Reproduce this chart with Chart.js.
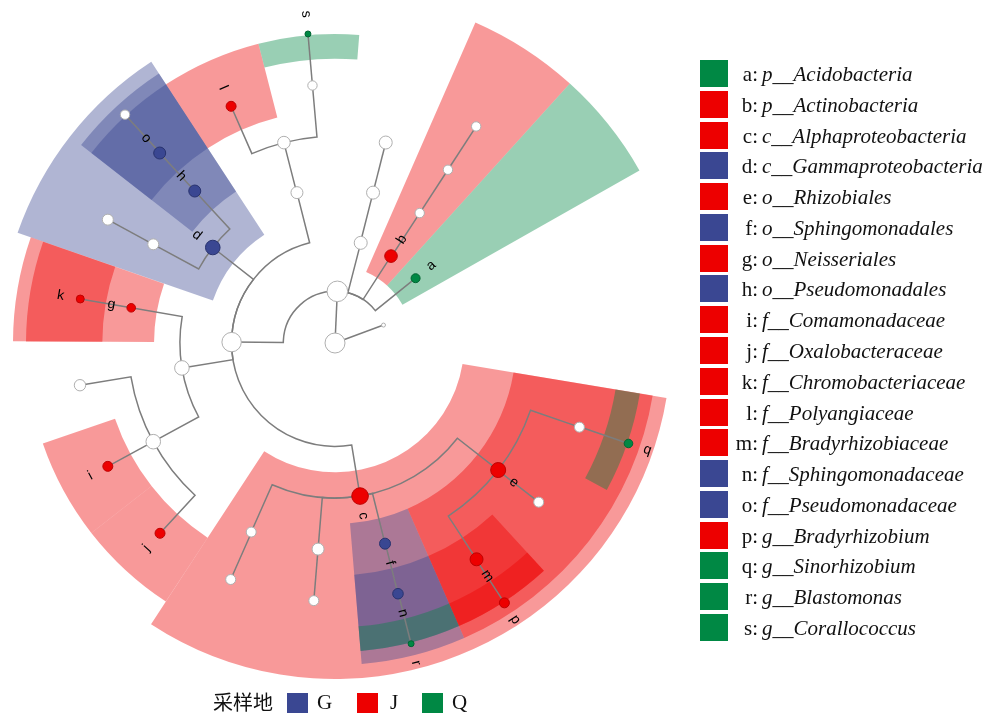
<!DOCTYPE html>
<html>
<head>
<meta charset="utf-8">
<script src="https://cdn.jsdelivr.net/npm/chart.js@4.4.1/dist/chart.umd.min.js"></script>
<style>
  html, body { margin: 0; padding: 0; background: #fff; }
  #wrap { position: relative; width: 987px; height: 716px; overflow: hidden; }
  #c { position: absolute; left: 0; top: 0; }
  .row { position: absolute; left: 700px; height: 28px; white-space: nowrap;
         font-family: "Liberation Serif", "Times New Roman", serif; font-size: 21px; line-height: 28px; color: #111; }
  .box { position: absolute; left: 0; top: 0; width: 28px; height: 27px; }
  .pre { position: absolute; left: 30px; width: 28px; text-align: right; }
  .tax { position: absolute; left: 62px; font-style: italic; }
  #key { position: absolute; left: 213px; top: 689px; height: 26px; white-space: nowrap;
         font-family: "Liberation Serif", "Times New Roman", serif; font-size: 21px; line-height: 26px; color: #111; }
  #key .ttl { position: absolute; left: 0; top: 0; font-family: "Noto Sans CJK SC", sans-serif; font-size: 20px; }
  #key .kb { position: absolute; top: 4px; width: 21px; height: 20px; }
  #key .kt { position: absolute; top: 0; }
</style>
</head>
<body>
<div id="wrap">
  <canvas id="c" width="987" height="716"></canvas>
  <div id="legend"></div>
  <div id="key"></div>
</div>
<script>
// ---- taxonomy tree: one entry per clade (parent, rank level, angular position, node size) ----
const nodeIds = [
  'root', 'k__Bacteria', 'k__Archaea',
  'p__Proteobacteria', 'p__other', 'c__other', 'o__other',
  'p__Actinobacteria', 'c__Actinobacteria', 'o__Actinomycetales', 'f__Actinomycetaceae',
  'p__Acidobacteria',
  'c__Alphaproteobacteria', 'c__Betaproteobacteria', 'c__Gammaproteobacteria', 'c__Deltaproteobacteria',
  'o__Rhizobiales', 'o__Sphingomonadales', 'o__alpha2', 'o__alpha3',
  'f__Bradyrhizobiaceae', 'f__Rhizobiales2', 'f__Rhizobiaceae',
  'g__Bradyrhizobium', 'g__Sinorhizobium',
  'f__Sphingomonadaceae', 'g__Blastomonas',
  'f__alpha2', 'f__alpha3',
  'o__Burkholderiales', 'o__Neisseriales', 'f__Chromobacteriaceae',
  'f__Comamonadaceae', 'f__Oxalobacteraceae', 'f__Burkholderiaceae',
  'o__Pseudomonadales', 'f__Pseudomonadaceae', 'g__Pseudomonas',
  'o__gamma2', 'f__gamma2',
  'o__Myxococcales', 'f__Polyangiaceae', 'f__Myxococcaceae', 'g__Corallococcus'
];
const nodeParents = [
  null, 'root', 'root',
  'k__Bacteria', 'k__Bacteria', 'p__other', 'c__other',
  'k__Bacteria', 'p__Actinobacteria', 'c__Actinobacteria', 'o__Actinomycetales',
  'k__Bacteria',
  'p__Proteobacteria', 'p__Proteobacteria', 'p__Proteobacteria', 'p__Proteobacteria',
  'c__Alphaproteobacteria', 'c__Alphaproteobacteria', 'c__Alphaproteobacteria', 'c__Alphaproteobacteria',
  'o__Rhizobiales', 'o__Rhizobiales', 'o__Rhizobiales',
  'f__Bradyrhizobiaceae', 'f__Rhizobiaceae',
  'o__Sphingomonadales', 'f__Sphingomonadaceae',
  'o__alpha2', 'o__alpha3',
  'c__Betaproteobacteria', 'c__Betaproteobacteria', 'o__Neisseriales',
  'o__Burkholderiales', 'o__Burkholderiales', 'o__Burkholderiales',
  'c__Gammaproteobacteria', 'o__Pseudomonadales', 'f__Pseudomonadaceae',
  'c__Gammaproteobacteria', 'o__gamma2',
  'c__Deltaproteobacteria', 'o__Myxococcales', 'o__Myxococcales', 'f__Myxococcaceae'
];
// rank level: 0 root, 1 kingdom, 2 phylum, 3 class, 4 order, 5 family, 6 genus
const nodeLevels = [
  0, 1, 1,
  2, 2, 3, 4,
  2, 3, 4, 5,
  2,
  3, 3, 3, 3,
  4, 4, 4, 4,
  5, 5, 5,
  6, 6,
  5, 6,
  5, 5,
  4, 4, 5,
  5, 5, 5,
  4, 5, 6,
  4, 5,
  4, 5, 5, 6
];
// angular position in degrees, clockwise from 3 o'clock
const nodeAngles = [
  0, -87.4, -20.3,
  180.5, -75.6, -75.8, -75.8,
  -57.2, -56.9, -56.9, -56.9,
  -38.8,
  80.7, 170.75, -142.0, -104.2,
  37.9, 76.0, 94.7, 113.9,
  56.8, 38.0, 19.0,
  56.9, 18.9,
  75.9, 75.8,
  94.7, 113.8,
  151.5, 189.8, 189.8,
  151.5, 132.6, 170.6,
  -132.7, -132.7, -132.6,
  -151.5, -151.5,
  -104.3, -113.7, -95.0, -95.0
];
// node marker radius (relative abundance)
const nodeSizes = [
  10, 10.3, 2,
  9.7, 6.5, 6.5, 6.5,
  6.3, 4.7, 4.7, 4.7,
  4.5,
  8.3, 7.3, 7.3, 6,
  7.5, 5.5, 6, 5,
  6.5, 5, 5,
  5, 4.3,
  5.3, 3,
  5, 5,
  7.3, 4.3, 4,
  5, 5, 5.7,
  6, 6, 4.7,
  5.5, 5.5,
  6.3, 5, 4.7, 3
];
// sampling site where the clade is enriched ('' = not significant)
const nodeGroups = [
  '', '', '',
  '', '', '', '',
  'J', '', '', '',
  'Q',
  'J', '', 'G', '',
  'J', 'G', '', '',
  'J', '', '',
  'J', 'Q',
  'G', 'Q',
  '', '',
  '', 'J', 'J',
  'J', 'J', '',
  'G', 'G', '',
  '', '',
  '', 'J', '', 'Q'
];
const nodeLetters = [
  '', '', '',
  '', '', '', '',
  'b', '', '', '',
  'a',
  'c', '', 'd', '',
  'e', 'f', '', '',
  'm', '', '',
  'p', 'q',
  'n', 'r',
  '', '',
  '', 'g', 'k',
  'i', 'j', '',
  'h', 'o', '',
  '', '',
  '', 'l', '', 's'
];

// ---- legend content ----
const legendLetters = ['a','b','c','d','e','f','g','h','i','j','k','l','m','n','o','p','q','r','s'];
const legendRanks   = ['p','p','c','c','o','o','o','o','f','f','f','f','f','f','f','g','g','g','g'];
const legendTaxa = [
  'Acidobacteria', 'Actinobacteria', 'Alphaproteobacteria', 'Gammaproteobacteria',
  'Rhizobiales', 'Sphingomonadales', 'Neisseriales', 'Pseudomonadales',
  'Comamonadaceae', 'Oxalobacteraceae', 'Chromobacteriaceae', 'Polyangiaceae',
  'Bradyrhizobiaceae', 'Sphingomonadaceae', 'Pseudomonadaceae', 'Bradyrhizobium',
  'Sinorhizobium', 'Blastomonas', 'Corallococcus'
];
const legendGroups = ['Q','J','J','G','J','G','J','G','J','J','J','J','J','G','G','J','Q','Q','Q'];
const siteTitle = '采样地';
const siteNames = ['G', 'J', 'Q'];

// ---- styling ----
const siteColors = { G: 'rgb(58,71,146)', J: 'rgb(237,0,0)', Q: 'rgb(0,136,68)' };
const siteShade  = { G: 'rgba(58,71,146,0.4)', J: 'rgba(237,0,0,0.4)', Q: 'rgba(0,136,68,0.4)' };
const siteEdge   = { G: 'rgb(40,50,110)', J: 'rgb(190,0,0)', Q: 'rgb(0,100,50)' };
const ringStep = 51.7;                              // radial distance between rank rings
const shadeOuter = [0, 0, 350, 336, 322, 309, 309]; // outer edge of clade shading per rank
const maxHalfSlot = 9.5;                            // widest half-slot of a terminal clade (deg)
const labelGap = 20;

// ---- helpers ----
const idx = {};
nodeIds.forEach((id, i) => { idx[id] = i; });
const parentIdx = nodeParents.map(p => (p === null ? -1 : idx[p]));
const children = nodeIds.map(() => []);
parentIdx.forEach((p, i) => { if (p >= 0) children[p].push(i); });
const rad = d => d * Math.PI / 180;
const wrap = d => ((d + 180) % 360 + 360) % 360 - 180;
const norm360 = d => ((d % 360) + 360) % 360;
function leavesOf(i) {
  if (!children[i].length) return [i];
  return children[i].flatMap(leavesOf);
}

// angular slot of every terminal clade: halfway to its neighbours, capped at maxHalfSlot
const leafOrder = nodeIds.map((_, i) => i).filter(i => !children[i].length)
  .sort((a, b) => norm360(nodeAngles[a]) - norm360(nodeAngles[b]));
const leafSlot = {};
leafOrder.forEach((l, k) => {
  const prev = leafOrder[(k - 1 + leafOrder.length) % leafOrder.length];
  const next = leafOrder[(k + 1) % leafOrder.length];
  const a = nodeAngles[l];
  leafSlot[l] = [Math.max(wrap(nodeAngles[prev] - a) / 2, -maxHalfSlot),
                 Math.min(wrap(nodeAngles[next] - a) / 2, maxHalfSlot)];
});

const points = nodeIds.map((id, i) => {
  const r = nodeLevels[i] * ringStep, t = rad(nodeAngles[i]);
  return { x: r * Math.cos(t), y: -r * Math.sin(t) };
});

const cladePlugin = {
  id: 'clade',
  beforeDatasetsDraw(chart) {
    const { ctx, scales: { x, y } } = chart;
    const cx = x.getPixelForValue(0), cy = y.getPixelForValue(0);
    const toPx = v => x.getPixelForValue(v) - cx;
    ctx.save();
    // clade shading, shallow ranks first
    const shaded = nodeIds.map((_, i) => i).filter(i => nodeGroups[i])
      .sort((a, b) => nodeLevels[a] - nodeLevels[b]);
    shaded.forEach(i => {
      const base = nodeAngles[i];
      let lo = Infinity, hi = -Infinity;
      leavesOf(i).forEach(l => {
        const rel = wrap(nodeAngles[l] - base);
        lo = Math.min(lo, rel + leafSlot[l][0]);
        hi = Math.max(hi, rel + leafSlot[l][1]);
      });
      const L = nodeLevels[i];
      const rIn = toPx(L * ringStep - ringStep / 2), rOut = toPx(shadeOuter[L]);
      ctx.beginPath();
      ctx.arc(cx, cy, rOut, rad(base + lo), rad(base + hi), false);
      ctx.arc(cx, cy, rIn, rad(base + hi), rad(base + lo), true);
      ctx.closePath();
      ctx.fillStyle = siteShade[nodeGroups[i]];
      ctx.fill();
    });
    // branches: arc along the parent ring, then radial out to the child
    ctx.strokeStyle = 'rgb(125,125,125)';
    ctx.lineWidth = 1.5;
    nodeIds.forEach((_, i) => {
      const p = parentIdx[i];
      if (p < 0) return;
      const rp = toPx(nodeLevels[p] * ringStep), rc = toPx(nodeLevels[i] * ringStep);
      const tp = nodeAngles[p], d = wrap(nodeAngles[i] - tp), tc = tp + d;
      ctx.beginPath();
      ctx.moveTo(cx + rp * Math.cos(rad(tp)), cy + rp * Math.sin(rad(tp)));
      if (rp > 0) ctx.arc(cx, cy, rp, rad(tp), rad(tc), d < 0);
      ctx.lineTo(cx + rc * Math.cos(rad(tc)), cy + rc * Math.sin(rad(tc)));
      ctx.stroke();
    });
    ctx.restore();
  },
  afterDatasetsDraw(chart) {
    const { ctx, scales: { x, y } } = chart;
    const cx = x.getPixelForValue(0), cy = y.getPixelForValue(0);
    const toPx = v => x.getPixelForValue(v) - cx;
    ctx.save();
    ctx.font = '14px "Liberation Sans", Arial, sans-serif';
    ctx.fillStyle = '#000';
    ctx.textAlign = 'center';
    ctx.textBaseline = 'middle';
    nodeIds.forEach((_, i) => {
      if (!nodeLetters[i]) return;
      const t = rad(nodeAngles[i]);
      const r = toPx(nodeLevels[i] * ringStep + labelGap);
      const rot = Math.cos(t) >= 0 ? t : t + Math.PI;
      ctx.save();
      ctx.translate(cx + r * Math.cos(t), cy + r * Math.sin(t));
      ctx.rotate(rot);
      ctx.fillText(nodeLetters[i], 0, 0);
      ctx.restore();
    });
    ctx.restore();
  }
};

new Chart(document.getElementById('c'), {
  type: 'scatter',
  data: {
    datasets: [{
      data: points,
      pointRadius: nodeSizes,
      pointHoverRadius: nodeSizes,
      pointBackgroundColor: nodeGroups.map(g => (g ? siteColors[g] : '#ffffff')),
      pointBorderColor: nodeGroups.map(g => (g ? siteEdge[g] : 'rgb(175,175,175)')),
      pointBorderWidth: 1,
      clip: false
    }]
  },
  options: {
    responsive: false,
    animation: false,
    devicePixelRatio: 1,
    layout: { padding: 0, autoPadding: false },
    plugins: { legend: { display: false }, tooltip: { enabled: false } },
    events: [],
    scales: {
      x: { type: 'linear', min: -335, max: 652, display: false },
      y: { type: 'linear', min: -373, max: 343, display: false }
    }
  },
  plugins: [cladePlugin]
});

// ---- side legend of discriminant clades ----
const legend = document.getElementById('legend');
legendLetters.forEach((l, i) => {
  const row = document.createElement('div');
  row.className = 'row';
  row.style.top = (60 + i * 30.78) + 'px';
  row.innerHTML = '<div class="box" style="background:' + siteColors[legendGroups[i]] + '"></div>' +
    '<span class="pre">' + l + ':</span>' +
    '<span class="tax">' + legendRanks[i] + '__' + legendTaxa[i] + '</span>';
  legend.appendChild(row);
});

// ---- sampling site key ----
const key = document.getElementById('key');
const kx = [[74, 104], [144, 177], [209, 239]];
key.innerHTML = '<span class="ttl">' + siteTitle + '</span>' + siteNames.map((s, i) =>
  '<div class="kb" style="left:' + kx[i][0] + 'px;background:' + siteColors[s] + '"></div>' +
  '<span class="kt" style="left:' + kx[i][1] + 'px">' + s + '</span>').join('');
</script>
</body>
</html>
